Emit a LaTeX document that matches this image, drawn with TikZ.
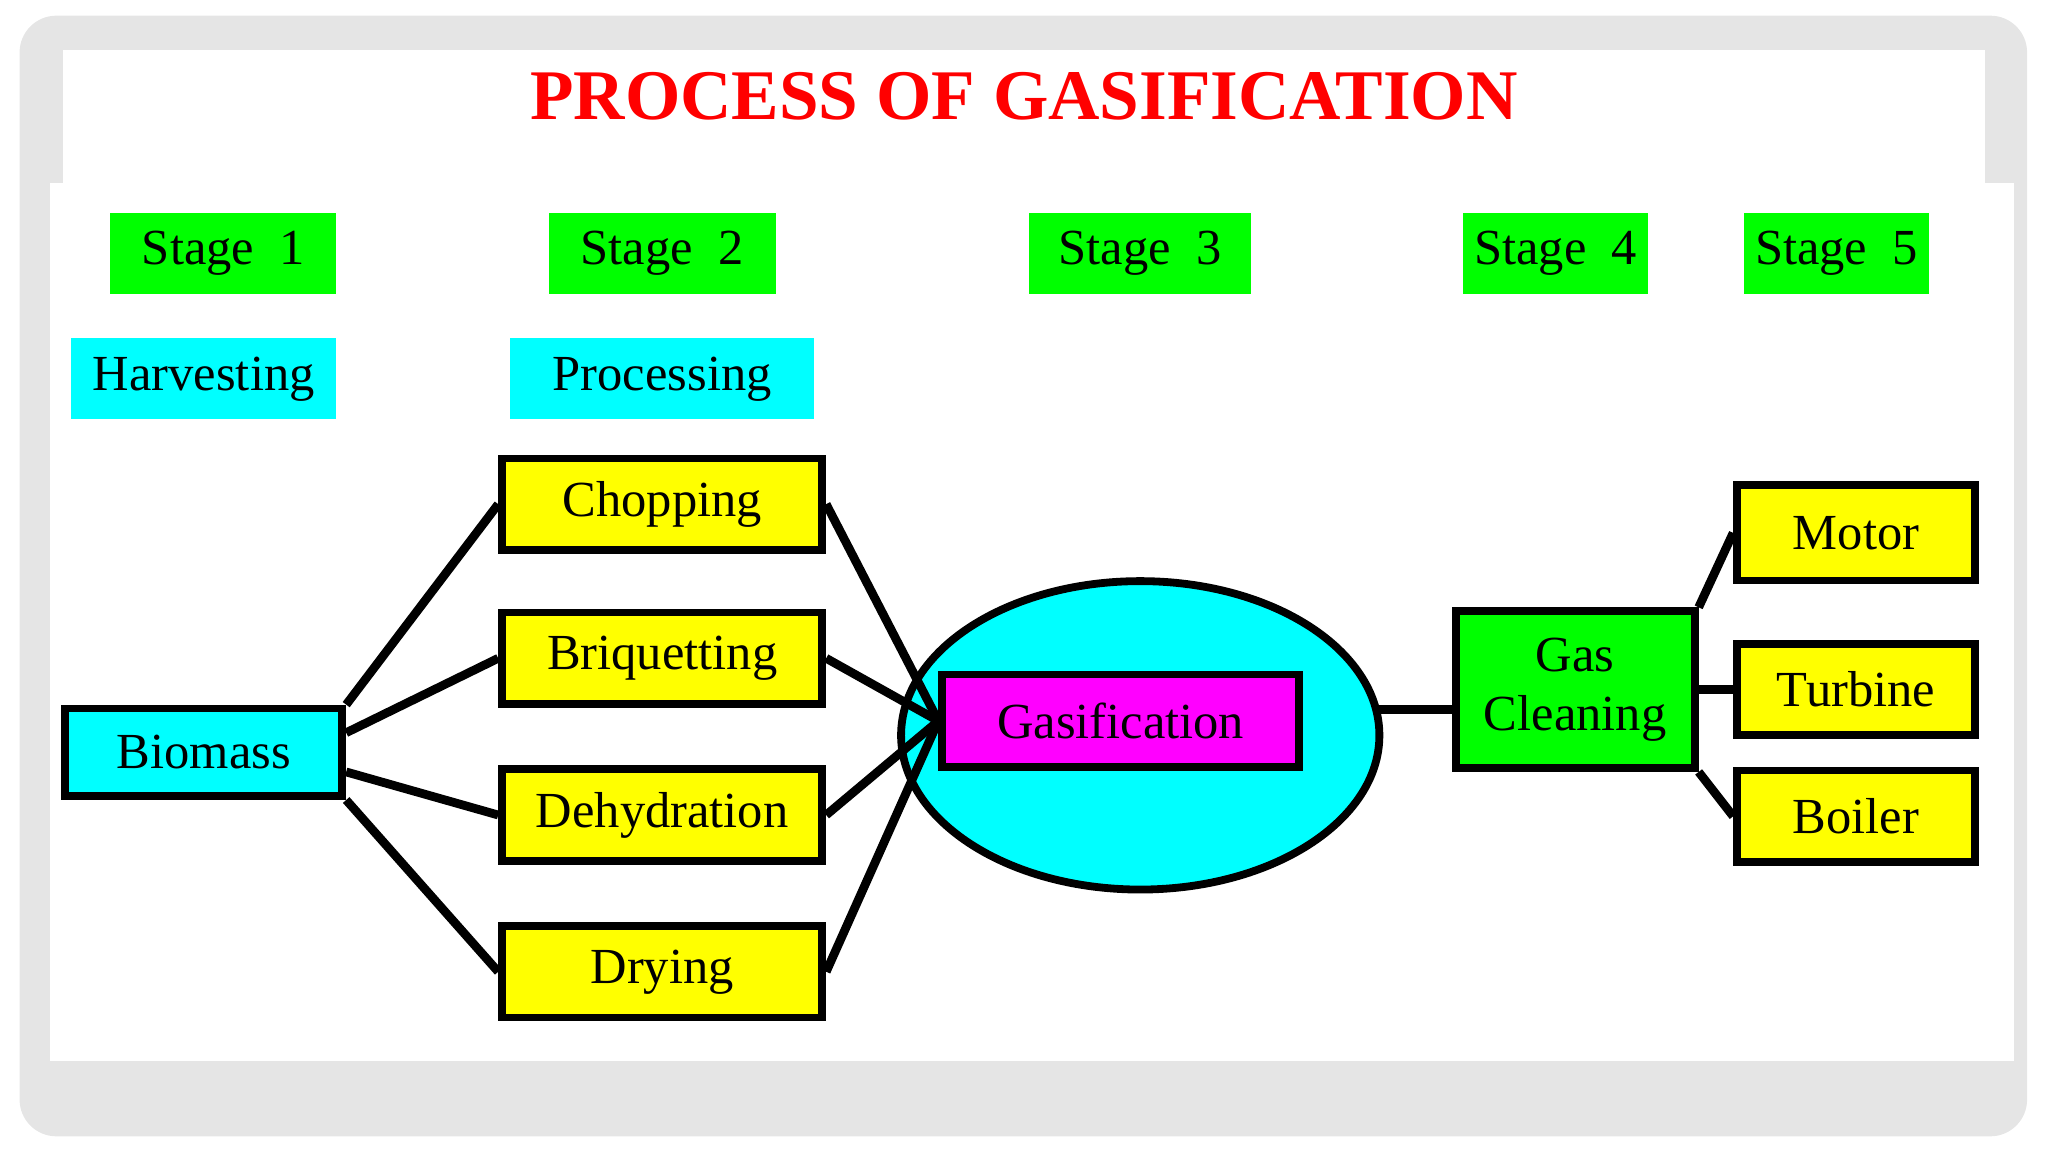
\documentclass[tikz,border=0pt]{standalone}
\usepackage{fontspec}
\setmainfont{Liberation Serif}
\usetikzlibrary{positioning,shapes.geometric}
\definecolor{brightcyan}{RGB}{0,255,255}
\definecolor{brightmagenta}{RGB}{255,0,255}
\definecolor{brightyellow}{RGB}{255,255,0}
\definecolor{brightgreen}{RGB}{0,255,0}
\tikzset{
  stage/.style={fill=brightgreen, inner sep=0pt, font=\fontsize{11}{13}\selectfont},
  label box/.style={fill=brightcyan, inner sep=0pt, font=\fontsize{11}{13}\selectfont},
  phase/.style={draw=black, line width=1.7pt, fill=brightyellow, inner sep=0pt, minimum width=2.45cm, minimum height=0.7cm, font=\fontsize{11}{13}\selectfont},
  link/.style={line width=1.9pt, draw=black}
}
\begin{document}
\begin{tikzpicture}[x=0.01cm, y=-0.01cm]
\useasboundingbox (0,0) rectangle (1568,882);
\fill[gray!20, rounded corners=8pt] (15,12) rectangle (1552,870);
\fill[white] (48,38) rectangle (1520,142);
\fill[white] (38,140) rectangle (1542,812);

\node[text=red, font=\fontsize{15.5}{18}\selectfont\bfseries] (title) at (784,74) {PROCESS OF GASIFICATION};

\node[stage, minimum width=1.73cm, minimum height=0.62cm] (stage1) at (171,194) {Stage\ \ 1};
\node[stage, minimum width=1.74cm, minimum height=0.62cm] (stage2) at (507,194) {Stage\ \ 2};
\node[stage, minimum width=1.70cm, minimum height=0.62cm] (stage3) at (873,194) {Stage\ \ 3};
\node[stage, minimum width=1.41cm, minimum height=0.62cm] (stage4) at (1191,194) {Stage\ \ 4};
\node[stage, minimum width=1.41cm, minimum height=0.62cm] (stage5) at (1406,194) {Stage\ \ 5};

\node[label box, minimum width=2.03cm, minimum height=0.62cm] (harvesting) at (156,290) {Harvesting};
\node[label box, minimum width=2.33cm, minimum height=0.62cm] (processing) at (507,290) {Processing};

\node[phase] (chopping) at (507,386) {Chopping};
\node[phase] (briquetting) at (507,504) {Briquetting};
\node[phase] (dehydration) at (507,624) {Dehydration};
\node[phase] (drying) at (507,744) {Drying};

\node[phase, fill=brightcyan, minimum width=2.12cm, minimum height=0.67cm] (biomass) at (156,576) {Biomass};

\node[draw=black, line width=1.7pt, fill=brightcyan, ellipse, minimum width=3.66cm, minimum height=2.36cm] (gasifier) at (873,563) {};
\node[phase, fill=brightmagenta, minimum width=2.73cm, minimum height=0.71cm] (gasification) at (858,552) {Gasification};

\node[phase, fill=brightgreen, minimum width=1.83cm, minimum height=1.2cm, align=center] (gas cleaning) at (1206,528) {Gas\\Cleaning};

\node[phase, minimum width=1.82cm, minimum height=0.73cm] (motor) at (1421,408) {Motor};
\node[phase, minimum width=1.82cm, minimum height=0.70cm] (turbine) at (1421,528) {Turbine};
\node[phase, minimum width=1.82cm, minimum height=0.70cm] (boiler) at (1421,625) {Boiler};

\draw[link] (biomass.north east) to (chopping.west);
\draw[link] ([yshift=0.15cm]biomass.east) to (briquetting.west);
\draw[link] ([yshift=-0.15cm]biomass.east) to (dehydration.west);
\draw[link] (biomass.south east) to (drying.west);

\draw[link] (chopping.east) to (gasification.west);
\draw[link] (briquetting.east) to (gasification.west);
\draw[link] (dehydration.east) to (gasification.west);
\draw[link] (drying.east) to (gasification.west);

\draw[link] ([xshift=-0.06cm,yshift=-0.15cm]gasifier.east |- gas cleaning.west) to ([yshift=-0.15cm]gas cleaning.west);

\draw[link] (gas cleaning.north east) to (motor.west);
\draw[link] (gas cleaning.east) to (turbine.west);
\draw[link] (gas cleaning.south east) to (boiler.west);
\end{tikzpicture}
\end{document}
